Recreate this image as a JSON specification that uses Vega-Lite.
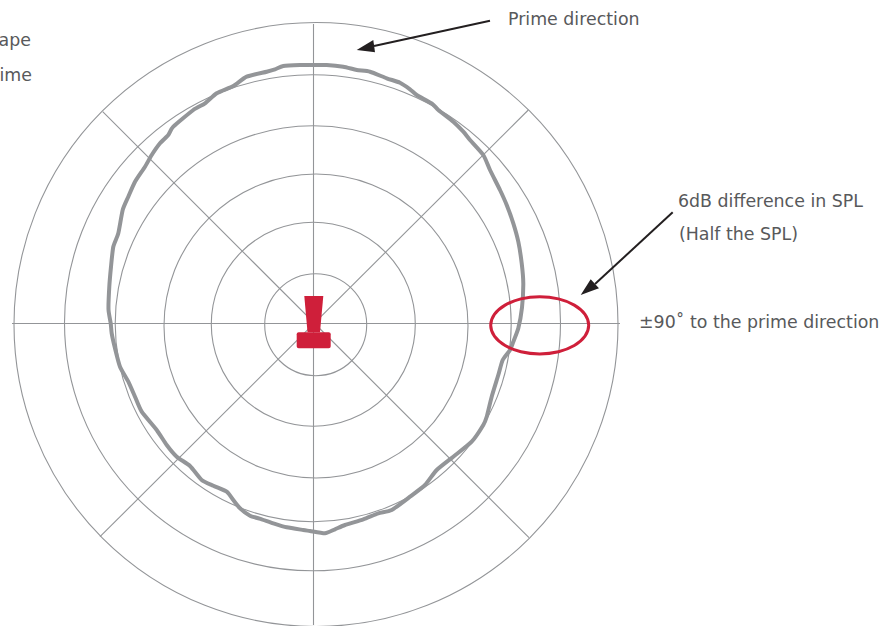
{"$schema":"https://vega.github.io/schema/vega-lite/v6.json","width":887,"height":626,"padding":0,"autosize":{"type":"none"},"background":"white","config":{"view":{"stroke":null},"axis":{"domain":false}},
"datasets":{
"rings":[{"cx":2.2,"cy":-1.2,"r":51},{"cx":-0.2,"cy":-0.7,"r":102},{"cx":2.5,"cy":-2.5,"r":152},{"cx":-0.3,"cy":-0.2,"r":198},{"cx":-1,"cy":0.7,"r":248},{"cx":2.5,"cy":-1,"r":302}],
"spokes":[{"x":-301.5,"y":0,"x2":306.5,"y2":0},{"x":0,"y":299.5,"x2":0,"y2":-301.5},{"x":-210.8,"y":211.8,"x2":215.5,"y2":-214.2},{"x":214.8,"y":213.5,"x2":-213.5,"y2":-213.2}],
"response":[{"i":1,"x":-3.5,"y":258.5},{"i":2,"x":13.2,"y":258.5},{"i":3,"x":29.8,"y":256.8},{"i":4,"x":43.2,"y":253.5},{"i":5,"x":56.5,"y":251.8},{"i":6,"x":73.2,"y":245.2},{"i":7,"x":86.5,"y":240.8},{"i":8,"x":96.5,"y":234.2},{"i":9,"x":103.2,"y":228.5},{"i":10,"x":118.2,"y":220.2},{"i":11,"x":124.8,"y":213.5},{"i":12,"x":139.8,"y":201.8},{"i":13,"x":149.8,"y":191.8},{"i":14,"x":156.5,"y":183.5},{"i":15,"x":169.8,"y":168.5},{"i":16,"x":176.5,"y":153.5},{"i":17,"x":186.5,"y":133.5},{"i":18,"x":193.2,"y":118.5},{"i":19,"x":199.8,"y":100.2},{"i":20,"x":204.8,"y":81.8},{"i":21,"x":208.2,"y":60.2},{"i":22,"x":209.8,"y":40.2},{"i":23,"x":208.5,"y":16},{"i":24,"x":204.8,"y":-4.8},{"i":25,"x":199.8,"y":-18.2},{"i":26,"x":196.5,"y":-26.5},{"i":27,"x":189.2,"y":-36.5},{"i":28,"x":184.8,"y":-51.5},{"i":29,"x":178.2,"y":-73.2},{"i":30,"x":173.2,"y":-93.2},{"i":31,"x":169.8,"y":-101.5},{"i":32,"x":158.2,"y":-118.2},{"i":33,"x":139.8,"y":-133.2},{"i":34,"x":123.2,"y":-146.5},{"i":35,"x":111.5,"y":-161.5},{"i":36,"x":96.5,"y":-173.2},{"i":37,"x":78.2,"y":-186.5},{"i":38,"x":64.8,"y":-189.8},{"i":39,"x":49.8,"y":-195.8},{"i":40,"x":31.5,"y":-201.5},{"i":41,"x":21.5,"y":-205.8},{"i":42,"x":11.5,"y":-209.8},{"i":43,"x":-3.5,"y":-207.5},{"i":44,"x":-10.2,"y":-206.5},{"i":45,"x":-26.8,"y":-203.8},{"i":46,"x":-40.2,"y":-199.8},{"i":47,"x":-51.8,"y":-195.8},{"i":48,"x":-63.5,"y":-192.2},{"i":49,"x":-73.5,"y":-184.8},{"i":50,"x":-80.2,"y":-176.5},{"i":51,"x":-86.8,"y":-168.2},{"i":52,"x":-100.2,"y":-162.2},{"i":53,"x":-111.8,"y":-156.5},{"i":54,"x":-123.5,"y":-142.5},{"i":55,"x":-136.8,"y":-133.2},{"i":56,"x":-146.8,"y":-121.5},{"i":57,"x":-156.8,"y":-106.5},{"i":58,"x":-171.8,"y":-88.2},{"i":59,"x":-178.5,"y":-73.2},{"i":60,"x":-185.2,"y":-58.2},{"i":61,"x":-193.5,"y":-43.2},{"i":62,"x":-198.5,"y":-24.8},{"i":63,"x":-201.8,"y":-9.8},{"i":64,"x":-202.8,"y":0.2},{"i":65,"x":-205,"y":14},{"i":66,"x":-204.2,"y":36.8},{"i":67,"x":-202.5,"y":56.8},{"i":68,"x":-200.2,"y":76.8},{"i":69,"x":-195.2,"y":90.2},{"i":70,"x":-190.8,"y":113.5},{"i":71,"x":-185.2,"y":126.8},{"i":72,"x":-178.5,"y":141.8},{"i":73,"x":-168.5,"y":156.8},{"i":74,"x":-161.8,"y":168.5},{"i":75,"x":-153.5,"y":180.2},{"i":76,"x":-145.2,"y":188.5},{"i":77,"x":-140.2,"y":196.8},{"i":78,"x":-120.2,"y":213.5},{"i":79,"x":-108.5,"y":220.2},{"i":80,"x":-96.8,"y":230.2},{"i":81,"x":-80.2,"y":237.5},{"i":82,"x":-66.8,"y":246.8},{"i":83,"x":-46.8,"y":251.8},{"i":84,"x":-38.5,"y":254.2},{"i":85,"x":-30.2,"y":257.5},{"i":86,"x":-13.5,"y":258.5},{"i":87,"x":-3.5,"y":258.5}],
"highlight":[{"i":1,"x":275.2,"y":-1.8},{"i":2,"x":271.5,"y":9.1},{"i":3,"x":260.8,"y":18.4},{"i":4,"x":245,"y":24.6},{"i":5,"x":226.2,"y":26.8},{"i":6,"x":207.4,"y":24.6},{"i":7,"x":191.6,"y":18.4},{"i":8,"x":180.9,"y":9.1},{"i":9,"x":177.2,"y":-1.8},{"i":10,"x":180.9,"y":-12.7},{"i":11,"x":191.6,"y":-22},{"i":12,"x":207.4,"y":-28.2},{"i":13,"x":226.2,"y":-30.4},{"i":14,"x":245,"y":-28.2},{"i":15,"x":260.8,"y":-22},{"i":16,"x":271.5,"y":-12.7}],
"shafts":[{"x":176.5,"y":302.8,"x2":60.5,"y2":277.5},{"x":359.2,"y":111.2,"x2":281.5,"y2":39.5}],
"heads":[{"arrow":"prime","x":43.2,"y":273.5,"y2":273.5},{"arrow":"prime","x":59.8,"y":283.5,"y2":271.4},{"arrow":"prime","x":61.5,"y":271.2,"y2":271.2},{"arrow":"spl","x":267.2,"y":28.5,"y2":28.5},{"arrow":"spl","x":277.2,"y":44.2,"y2":32.2},{"arrow":"spl","x":285.5,"y":35.2,"y2":35.2}],
"labels":[{"x":194.5,"y":298.5,"t":"Prime direction"},{"x":364.5,"y":116.5,"t":"6dB difference in SPL"},{"x":365.5,"y":83.5,"t":"(Half the SPL)"},{"x":325.5,"y":-4.5,"t":"±90˚ to the prime direction"}],
"cut":[{"x":-282.5,"y":277.5,"t":"ape"},{"x":-281.5,"y":242.5,"t":"ime"}]
},
"layer":[
{"data":{"name":"rings"},"mark":{"type":"arc","filled":false,"stroke":"#939598","strokeWidth":1.1,"theta":0,"theta2":6.2832},"encoding":{"x":{"field":"cx","type":"quantitative","scale":{"domain":[-313.5,573.5],"nice":false,"zero":false},"axis":null},"y":{"field":"cy","type":"quantitative","scale":{"domain":[-302.5,323.5],"nice":false,"zero":false},"axis":null},"radius":{"field":"r","type":"quantitative","stack":false,"scale":{"type":"linear","domain":[0,300],"range":[0,300]},"legend":null}}},
{"data":{"name":"spokes"},"mark":{"type":"rule","stroke":"#939598","strokeWidth":1.1},"encoding":{"x":{"field":"x","type":"quantitative"},"y":{"field":"y","type":"quantitative"},"x2":{"field":"x2"},"y2":{"field":"y2"}}},
{"data":{"name":"response"},"mark":{"type":"line","stroke":"#939598","strokeWidth":4,"interpolate":"cardinal","tension":0.4,"strokeJoin":"round"},"encoding":{"x":{"field":"x","type":"quantitative"},"y":{"field":"y","type":"quantitative"},"order":{"field":"i","type":"quantitative"}}},
{"data":{"values":[{"y":27.5,"x":-9.2,"x2":9.8},{"y":-8.8,"x":-6,"x2":6.5}]},"mark":{"type":"area","orient":"horizontal","fill":"#cf1f3a"},"encoding":{"y":{"field":"y","type":"quantitative"},"x":{"field":"x","type":"quantitative"},"x2":{"field":"x2"}}},
{"data":{"values":[{"x":-16.8,"x2":17.2,"y":-8.8,"y2":-24.8}]},"mark":{"type":"rect","fill":"#cf1f3a","cornerRadius":2},"encoding":{"x":{"field":"x","type":"quantitative"},"x2":{"field":"x2"},"y":{"field":"y","type":"quantitative"},"y2":{"field":"y2"}}},
{"data":{"name":"highlight"},"mark":{"type":"line","stroke":"#cf1f3a","strokeWidth":3,"interpolate":"cardinal-closed"},"encoding":{"x":{"field":"x","type":"quantitative"},"y":{"field":"y","type":"quantitative"},"order":{"field":"i","type":"quantitative"}}},
{"data":{"name":"shafts"},"mark":{"type":"rule","stroke":"#231f20","strokeWidth":2},"encoding":{"x":{"field":"x","type":"quantitative"},"y":{"field":"y","type":"quantitative"},"x2":{"field":"x2"},"y2":{"field":"y2"}}},
{"data":{"name":"heads"},"mark":{"type":"area","orient":"vertical","fill":"#231f20"},"encoding":{"x":{"field":"x","type":"quantitative"},"y":{"field":"y","type":"quantitative"},"y2":{"field":"y2"},"detail":{"field":"arrow"}}},
{"data":{"name":"labels"},"mark":{"type":"text","align":"left","baseline":"alphabetic","font":"DejaVu Sans","fontSize":17.4,"fill":"#58595b"},"encoding":{"x":{"field":"x","type":"quantitative"},"y":{"field":"y","type":"quantitative"},"text":{"field":"t"}}},
{"data":{"name":"cut"},"mark":{"type":"text","align":"right","baseline":"alphabetic","font":"DejaVu Sans","fontSize":17.4,"fill":"#58595b"},"encoding":{"x":{"field":"x","type":"quantitative"},"y":{"field":"y","type":"quantitative"},"text":{"field":"t"}}}
]}
